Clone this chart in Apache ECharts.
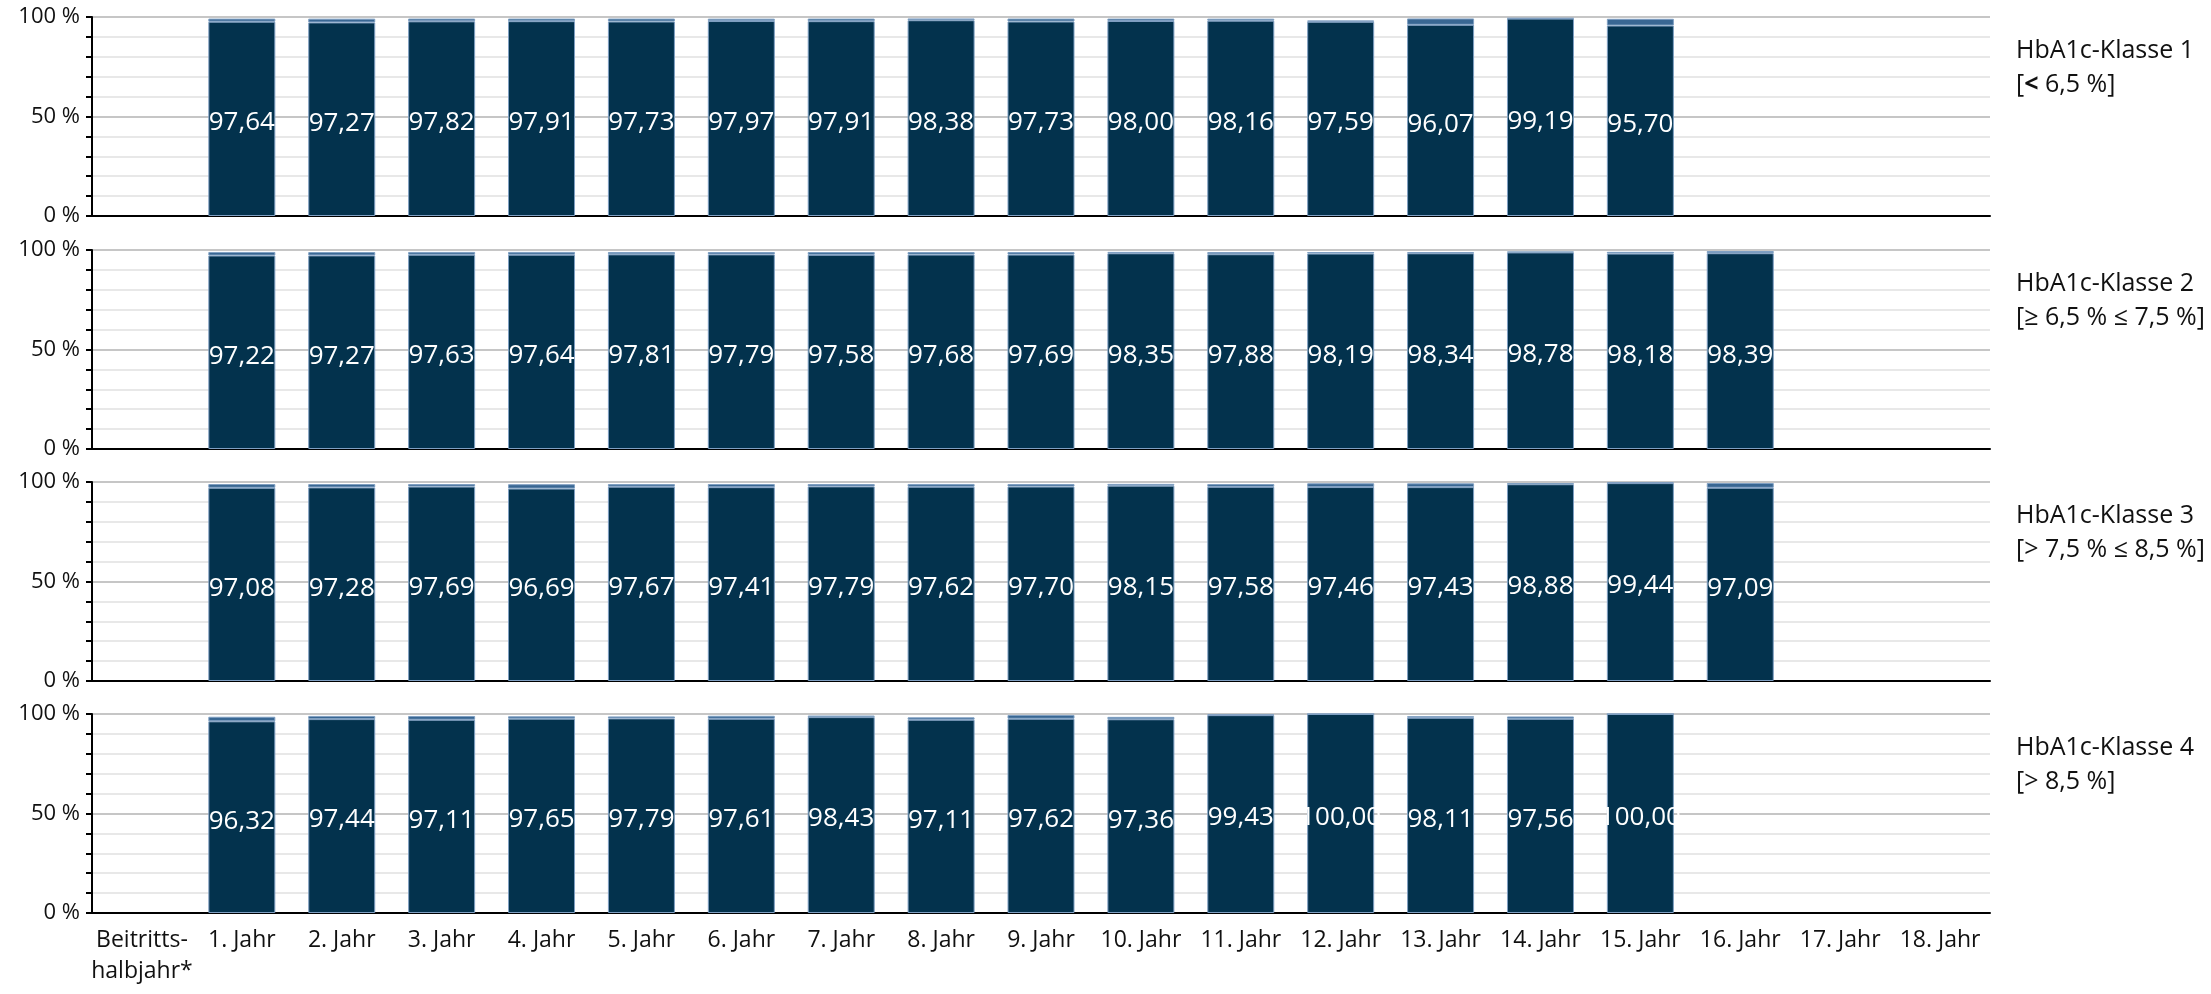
<!DOCTYPE html>
<html>
<head>
<meta charset="utf-8">
<script src="https://cdn.jsdelivr.net/npm/echarts@6/dist/echarts.min.js"></script>
<style>
html,body{margin:0;padding:0;background:#fff;}
#chart{width:2211px;height:994px;}
</style>
</head>
<body>
<div id="chart"></div>
<script>
// ---- data ----
const categories = ['Beitritts-\nhalbjahr*','1. Jahr','2. Jahr','3. Jahr','4. Jahr','5. Jahr','6. Jahr','7. Jahr','8. Jahr','9. Jahr','10. Jahr','11. Jahr','12. Jahr','13. Jahr','14. Jahr','15. Jahr','16. Jahr','17. Jahr','18. Jahr'];
const yTickLabels = {0:'0 %',50:'50 %',100:'100 %'};

const klasse1Main = [null,97.64,97.27,97.82,97.91,97.73,97.97,97.91,98.38,97.73,98.00,98.16,97.59,96.07,99.19,95.70,null,null,null];
const klasse1Rest = [null,1.56,1.9,1.4,1.3,1.5,1.2,1.3,0.9,1.5,1.2,1.0,0.7,3.2,0.3,3.4,null,null,null];

const klasse2Main = [null,97.22,97.27,97.63,97.64,97.81,97.79,97.58,97.68,97.69,98.35,97.88,98.19,98.34,98.78,98.18,98.39,null,null];
const klasse2Rest = [null,1.8,1.7,1.4,1.4,1.2,1.2,1.4,1.3,1.3,0.7,1.1,0.8,0.6,0.4,0.9,1.1,null,null];

const klasse3Main = [null,97.08,97.28,97.69,96.69,97.67,97.41,97.79,97.62,97.70,98.15,97.58,97.46,97.43,98.88,99.44,97.09,null,null];
const klasse3Rest = [null,1.9,1.7,1.3,2.2,1.3,1.6,1.2,1.4,1.3,0.9,1.4,1.9,1.9,0.6,0.4,2.4,null,null];

const klasse4Main = [null,96.32,97.44,97.11,97.65,97.79,97.61,98.43,97.11,97.62,97.36,99.43,100.00,98.11,97.56,100.00,null,null,null];
const klasse4Rest = [null,2.3,1.6,1.9,1.2,1.0,1.5,0.8,1.2,1.9,1.2,0.3,0,0.8,1.2,0,null,null,null];

const panelTitleLine1 = ['HbA1c-Klasse 1','HbA1c-Klasse 2','HbA1c-Klasse 3','HbA1c-Klasse 4'];
const panelTitleLine2 = ['[< 6,5 %]','[≥ 6,5 % ≤ 7,5 %]','[> 7,5 % ≤ 8,5 %]','[> 8,5 %]'];
const mainSeries = [klasse1Main, klasse2Main, klasse3Main, klasse4Main];
const restSeries = [klasse1Rest, klasse2Rest, klasse3Rest, klasse4Rest];

// ---- layout ----
const FONT = '"Open Sans", "Noto Sans", sans-serif';
const panelTops = [17, 250, 482, 714];
const panelHeight = 199;
const gridLeft = 92;
const gridRight = 221;
const DARK = '#03324d';
const MID = '#396793';
const TXT = '#111';

const grids = [], xAxes = [], yAxes = [], series = [], titles = [];
for (let i = 0; i < 4; i++) {
  grids.push({left: gridLeft, right: gridRight, top: panelTops[i], height: panelHeight, containLabel: false});
  xAxes.push({
    type: 'category', gridIndex: i, data: categories,
    axisLine: {show: true, lineStyle: {color: '#000', width: 2}},
    axisTick: {show: false},
    axisLabel: {show: i === 3, fontFamily: FONT, fontSize: 23, color: TXT, lineHeight: 31, margin: 12, interval: 0}
  });
  yAxes.push({
    type: 'value', gridIndex: i, min: 0, max: 100, interval: 10,
    axisLine: {show: true, lineStyle: {color: '#000', width: 2}},
    axisTick: {show: true, length: 6, lineStyle: {color: '#000', width: 2}},
    axisLabel: {
      fontFamily: FONT, fontSize: 22, color: TXT, margin: 12,
      formatter: v => (yTickLabels[v] !== undefined ? yTickLabels[v] : '')
    },
    splitLine: {show: true, lineStyle: {color: ['#c6c6c6','#e8e8e8','#e8e8e8','#e8e8e8','#e8e8e8'], width: 2}}
  });
  series.push({
    type: 'bar', xAxisIndex: i, yAxisIndex: i, stack: 's' + i,
    data: mainSeries[i], barWidth: 67,
    itemStyle: {color: DARK, borderColor: '#7f9fc2', borderWidth: 1},
    label: {
      show: true, position: 'inside', offset: [0, 4], color: '#fff', fontFamily: FONT, fontSize: 26,
      formatter: p => p.value == null ? '' : Number(p.value).toFixed(2).replace('.', ',')
    }
  });
  series.push({
    type: 'bar', xAxisIndex: i, yAxisIndex: i, stack: 's' + i,
    data: restSeries[i], barWidth: 67,
    itemStyle: {color: MID, borderColor: '#7f9fc2', borderWidth: 1}
  });
  const line2 = i === 0 ? '{a|[}{b|<}{a| 6,5 %]}' : '{a|' + panelTitleLine2[i] + '}';
  titles.push({
    text: '{a|' + panelTitleLine1[i] + '}\n' + line2,
    left: 2011, top: panelTops[i] + 12,
    textStyle: {
      fontWeight: 'normal',
      rich: {
        a: {fontFamily: FONT, fontSize: 25, fontWeight: 'normal', color: TXT, lineHeight: 34},
        b: {fontFamily: FONT, fontSize: 25, fontWeight: 'bold', color: TXT, lineHeight: 34}
      }
    }
  });
}

const chart = echarts.init(document.getElementById('chart'), null, {renderer: 'canvas'});
chart.setOption({
  animation: false,
  backgroundColor: '#fff',
  title: titles,
  grid: grids,
  xAxis: xAxes,
  yAxis: yAxes,
  series: series
});
</script>
</body>
</html>
